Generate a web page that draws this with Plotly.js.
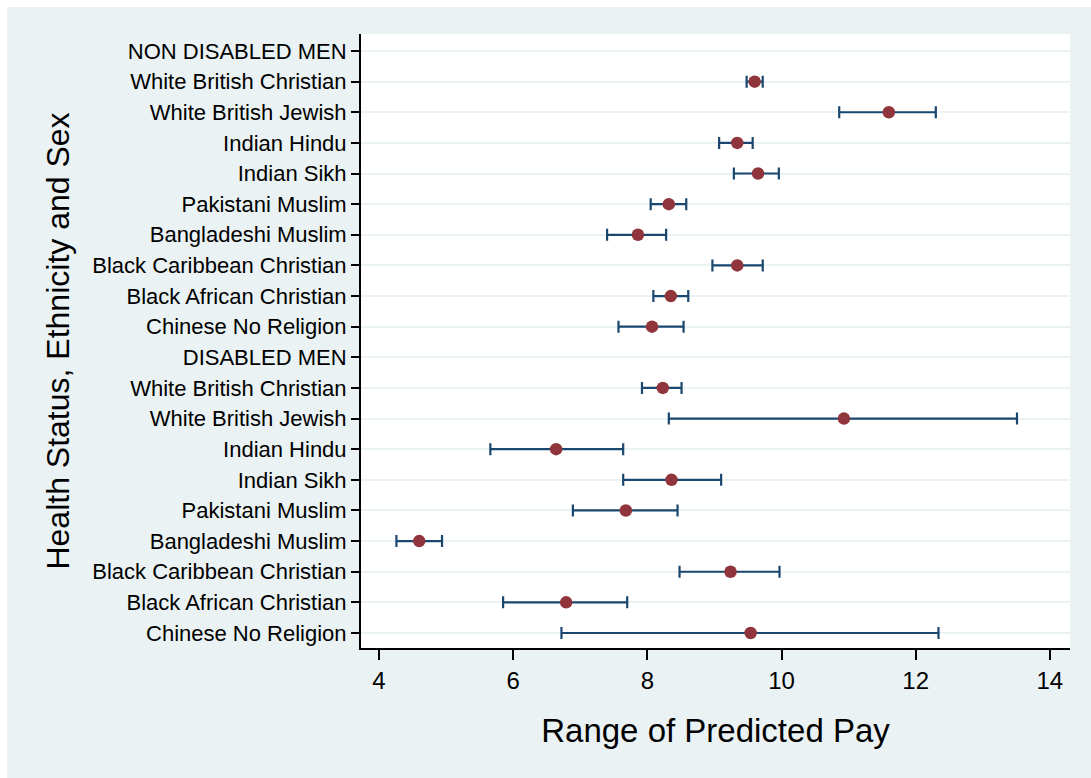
<!DOCTYPE html>
<html>
<head>
<meta charset="utf-8">
<script src="https://cdn.plot.ly/plotly-3.0.1.min.js"></script>
<style>
  html, body { margin: 0; padding: 0; background: #ffffff; }
  #chart { position: absolute; left: 7px; top: 7px; width: 1084px; height: 771px; }
</style>
</head>
<body>
<div id="chart"></div>
<script>
// Row labels (top to bottom)
const labels = [
  "NON DISABLED MEN",
  "White British Christian",
  "White British Jewish",
  "Indian Hindu",
  "Indian Sikh",
  "Pakistani Muslim",
  "Bangladeshi Muslim",
  "Black Caribbean Christian",
  "Black African Christian",
  "Chinese No Religion",
  "DISABLED MEN",
  "White British Christian",
  "White British Jewish",
  "Indian Hindu",
  "Indian Sikh",
  "Pakistani Muslim",
  "Bangladeshi Muslim",
  "Black Caribbean Christian",
  "Black African Christian",
  "Chinese No Religion"
];

// Predicted pay (point estimate), lower and upper bounds
const estimate = [null, 9.60, 11.60, 9.34, 9.65, 8.32, 7.86, 9.34, 8.35, 8.07,
                  null, 8.23, 10.93, 6.64, 8.36, 7.68, 4.60, 9.24, 6.79, 9.54];
const lower    = [null, 9.48, 10.86, 9.07, 9.29, 8.05, 7.40, 8.97, 8.09, 7.57,
                  null, 7.92, 8.32, 5.66, 7.64, 6.89, 4.26, 8.48, 5.85, 6.72];
const upper    = [null, 9.72, 12.30, 9.57, 9.96, 8.58, 8.28, 9.72, 8.61, 8.54,
                  null, 8.51, 13.51, 7.64, 9.10, 8.45, 4.94, 9.97, 7.70, 12.34];

const xTicks = [4, 6, 8, 10, 12, 14];

const rows = labels.map((_, i) => i);
const plus  = estimate.map((v, i) => v === null ? null : upper[i] - v);
const minus = estimate.map((v, i) => v === null ? null : v - lower[i]);

const trace = {
  type: "scatter",
  mode: "markers",
  x: estimate,
  y: rows,
  marker: { color: "#90353b", size: 12.5, symbol: "circle" },
  error_x: {
    type: "data",
    symmetric: false,
    array: plus,
    arrayminus: minus,
    color: "#1a476f",
    thickness: 2.2,
    width: 6
  },
  hoverinfo: "x+text",
  text: labels,
  showlegend: false
};

const font = "Liberation Sans, Arial, sans-serif";

const layout = {
  width: 1084,
  height: 771,
  paper_bgcolor: "#eaf2f3",
  plot_bgcolor: "#ffffff",
  margin: { l: 354, r: 21, t: 27, b: 130 },
  font: { family: font, color: "#000000" },
  xaxis: {
    range: [3.732, 14.30],
    tickvals: xTicks,
    ticktext: xTicks.map(String),
    ticks: "outside",
    ticklen: 10,
    tickwidth: 2,
    tickcolor: "#000000",
    showline: true,
    linecolor: "#000000",
    linewidth: 2,
    showgrid: false,
    zeroline: false,
    tickfont: { family: font, size: 24, color: "#000000" },
    title: { text: "Range of Predicted Pay", font: { family: font, size: 33, color: "#000000" }, standoff: 26 }
  },
  yaxis: {
    range: [19.49, -0.555],
    tickvals: rows,
    ticktext: labels,
    ticks: "outside",
    ticklen: 8,
    tickwidth: 1.5,
    tickcolor: "#000000",
    showline: true,
    linecolor: "#000000",
    linewidth: 2,
    showgrid: true,
    gridcolor: "#eaf2f3",
    gridwidth: 2,
    zeroline: false,
    tickfont: { family: font, size: 22, color: "#000000" },
    title: { text: "Health Status, Ethnicity and Sex", font: { family: font, size: 32, color: "#000000" }, standoff: 13 }
  }
};

Plotly.newPlot("chart", [trace], layout, { displayModeBar: false, responsive: false });
</script>
</body>
</html>
